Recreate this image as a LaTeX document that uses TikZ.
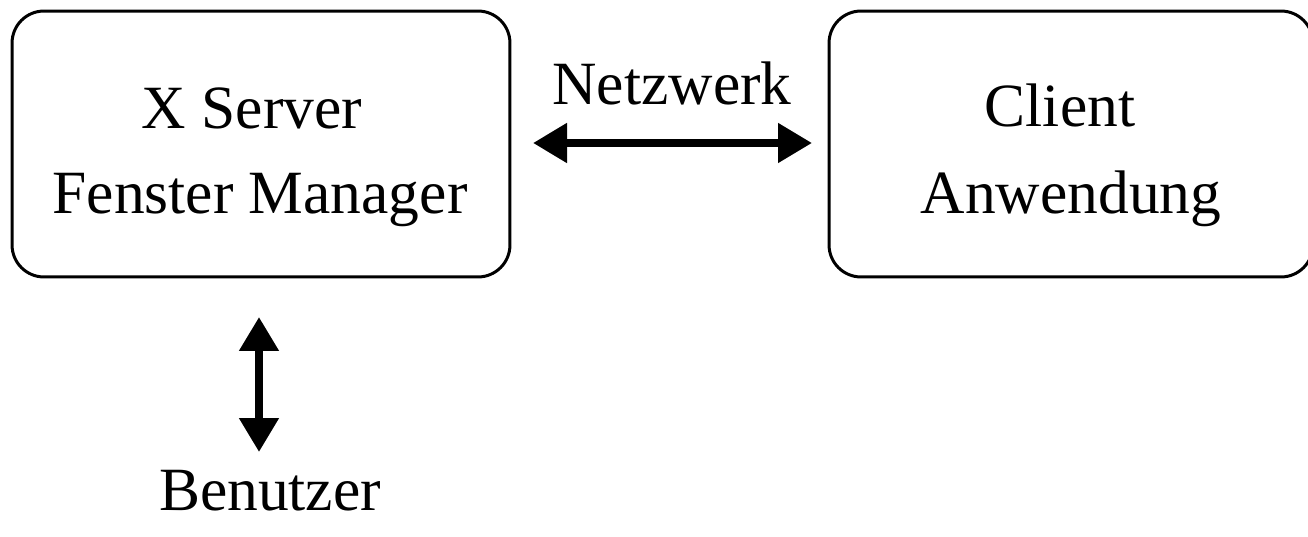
\documentclass[tikz,border=0pt]{standalone}
\usepackage{fontspec}
\setmainfont{Liberation Serif}
\usetikzlibrary{arrows.meta}
\begin{document}
\begin{tikzpicture}[x=0.02cm, y=-0.02cm,
  box/.style={draw, line width=1.7pt, rounded corners=0.64cm, inner sep=0pt},
  lbl/.style={anchor=base, inner sep=0pt, font=\fontsize{35}{42}\selectfont},
  link/.style={line width=4.5pt, {Triangle[length=0.68cm, width=0.76cm]}-{Triangle[length=0.68cm, width=0.76cm]}}]
  \useasboundingbox (0,0) rectangle (1308,537);
  % the two machines
  \node[box, minimum width=9.96cm, minimum height=5.32cm] (srv) at (261,144) {};
  \node[box, minimum width=9.68cm, minimum height=5.32cm] (cli) at (1071,144) {};
  % captions
  \node[lbl] (srvA) at (252,129) {X Server};
  \node[lbl] (srvB) at (260,213) {Fenster Manager};
  \node[lbl] (cliA) at (1060,127) {Client};
  \node[lbl] (cliB) at (1071,213) {Anwendung};
  \node[lbl] (net) at (672,105) {Netzwerk};
  \node[lbl] (usr) at (270,510) {Benutzer};
  % arrow end points
  \coordinate (netL) at (533,143);
  \coordinate (netR) at (812,143);
  \coordinate (usrT) at (259,317);
  \coordinate (usrB) at (259,452);
  \draw[link] (netL) -- (netR);
  \draw[link] (usrT) -- (usrB);
\end{tikzpicture}
\end{document}
